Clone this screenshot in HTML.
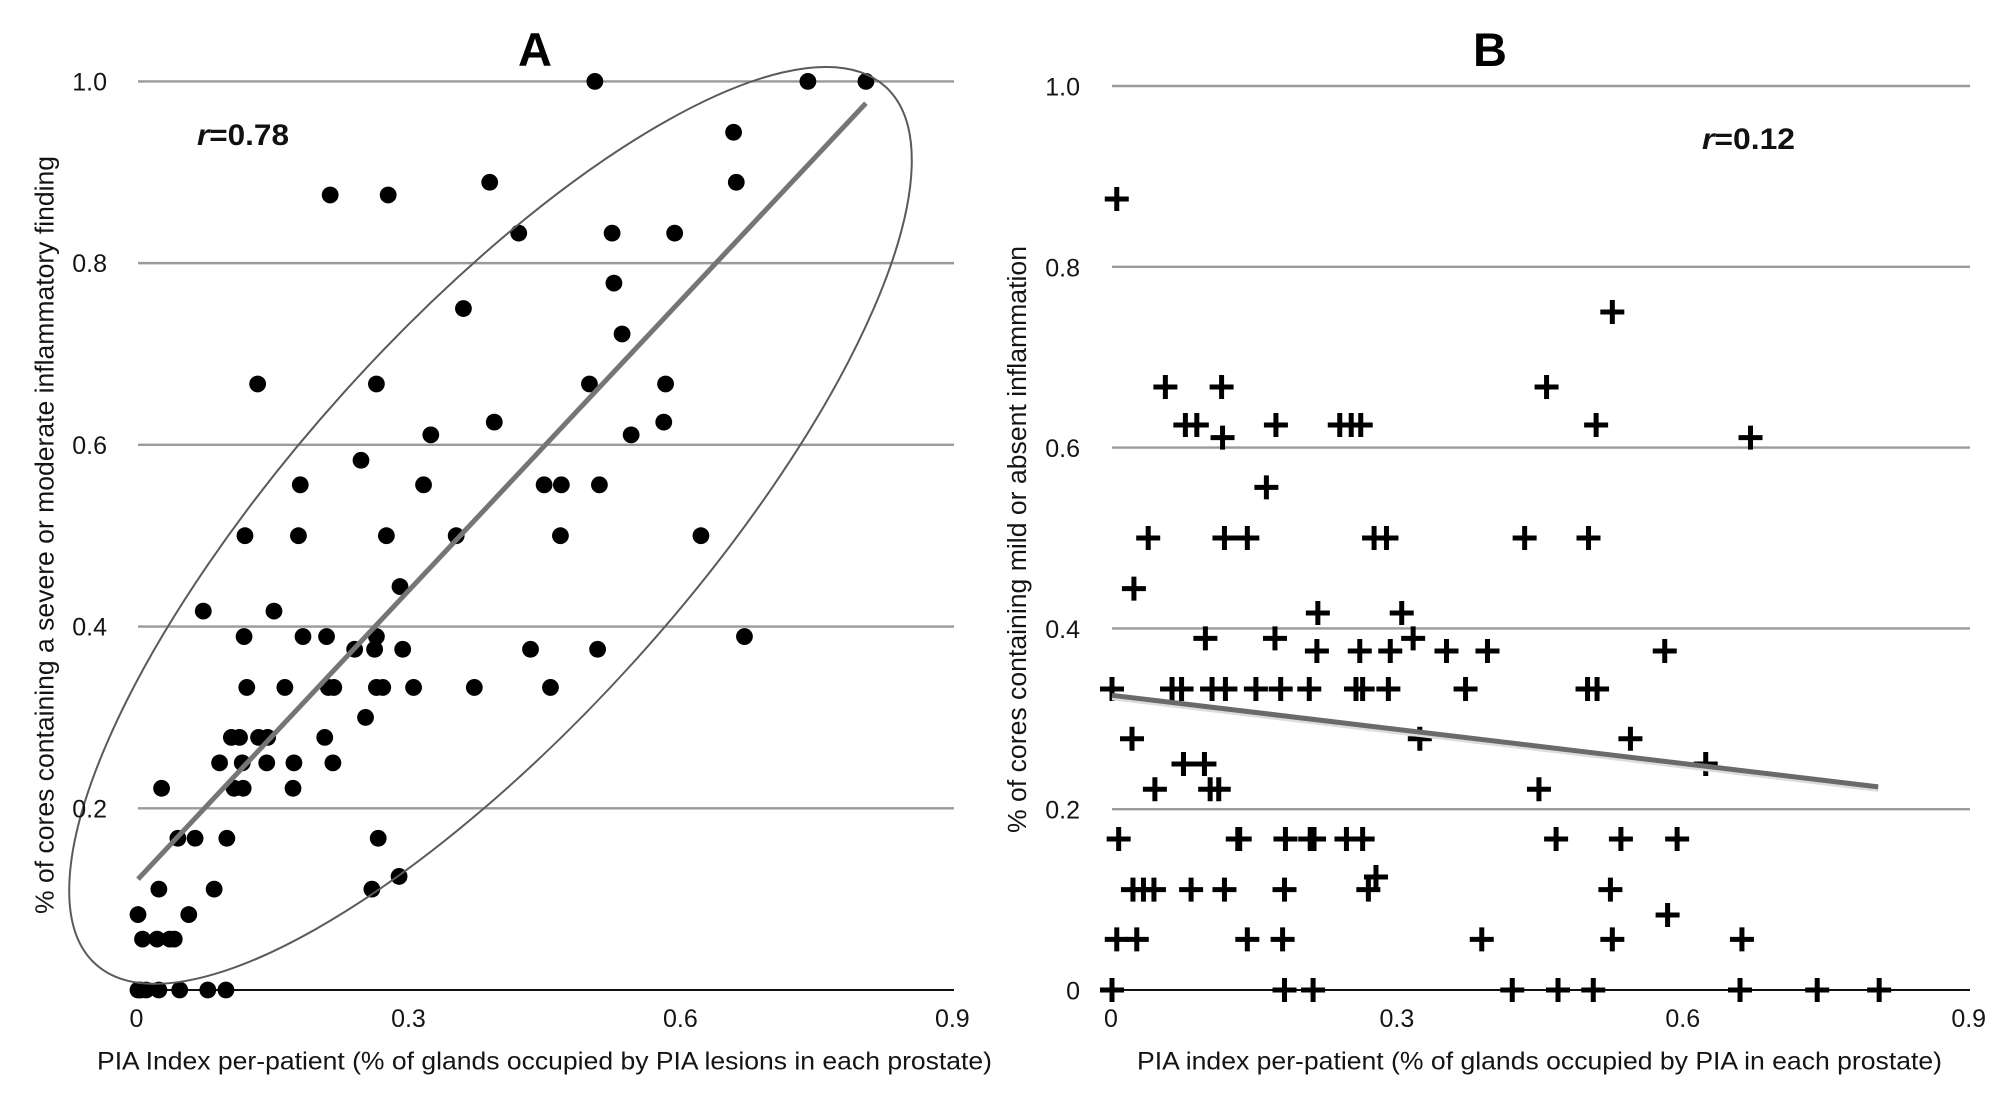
<!DOCTYPE html>
<html lang="en">
<head>
<meta charset="utf-8">
<title>PIA index vs inflammation scatter plots</title>
<style>
html,body{margin:0;padding:0;background:#fff;}
svg{display:block;}
text{font-family:"Liberation Sans",sans-serif;fill:#141414;}
.tick{font-size:25px;}
.axt{font-size:25px;}
.ayt{font-size:25.5px;}
.panel{font-size:47px;font-weight:bold;fill:#000;}
.rv{font-size:30px;font-weight:bold;fill:#111;}
</style>
</head>
<body>
<svg id="fig" xmlns="http://www.w3.org/2000/svg" width="2008" height="1111" viewBox="0 0 2008 1111">
<rect width="2008" height="1111" fill="#fff"/>
<g id="gridA"></g>
<g id="gridB"></g>
<g id="marksA"></g>
<g id="marksB"></g>
<g id="trends"></g>
<ellipse cx="490.5" cy="525.4" rx="590.3" ry="197.9" transform="rotate(-48.03 490.5 525.4)" fill="none" stroke="#5a5a5a" stroke-width="2"/>
<g id="ticks"></g>
<text class="panel" x="535" y="66" text-anchor="middle">A</text>
<text class="panel" x="1490" y="66" text-anchor="middle">B</text>
<text class="rv" x="197" y="145" textLength="92" lengthAdjust="spacingAndGlyphs"><tspan font-style="italic">r</tspan>=0.78</text>
<text class="rv" x="1702" y="149" textLength="93" lengthAdjust="spacingAndGlyphs"><tspan font-style="italic">r</tspan>=0.12</text>
<text class="axt" x="97" y="1069.5" textLength="895" lengthAdjust="spacingAndGlyphs">PIA Index per-patient (% of glands occupied by PIA lesions in each prostate)</text>
<text class="axt" x="1137" y="1069.5" textLength="805" lengthAdjust="spacingAndGlyphs">PIA index per-patient (% of glands occupied by PIA in each prostate)</text>
<text class="ayt" transform="translate(53.3 914) rotate(-90)" textLength="758" lengthAdjust="spacingAndGlyphs">% of cores containing a severe or moderate inflammatory finding</text>
<text class="ayt" transform="translate(1026 833) rotate(-90)" textLength="587" lengthAdjust="spacingAndGlyphs">% of cores containing mild or absent inflammation</text>
</svg>
<script>
const xTicks = [0, 0.3, 0.6, 0.9];
const xTickLabels = ['0', '0.3', '0.6', '0.9'];
const yTicks = [0, 0.2, 0.4, 0.6, 0.8, 1.0];
const yTickLabels = ['0', '0.2', '0.4', '0.6', '0.8', '1.0'];

const severeX = [.504,.739,.803,.657,.388,.660,.212,.276,.420,.523,.592,.525,.359,.534,.132,.263,.498,.582,.393,.580,.323,.544,.246,.179,.315,.448,.467,.509,.118,.177,.274,.351,.466,.621,.289,.072,.150,.117,.182,.208,.263,.669,.239,.261,.292,.433,.507,.120,.162,.210,.216,.263,.270,.304,.371,.455,.251,.103,.112,.133,.143,.206,.090,.115,.142,.172,.215,.026,.106,.116,.171,.044,.063,.098,.265,.288,.023,.084,.258,0,.056,.005,.021,.035,.040,0,.003,.009,.023,.046,.077,.097];
const severeY = [1,1,1,.944,.889,.889,.875,.875,.833,.833,.833,.778,.75,.722,.667,.667,.667,.667,.625,.625,.611,.611,.583,.556,.556,.556,.556,.556,.5,.5,.5,.5,.5,.5,.444,.417,.417,.389,.389,.389,.389,.389,.375,.375,.375,.375,.375,.333,.333,.333,.333,.333,.333,.333,.333,.333,.3,.278,.278,.278,.278,.278,.25,.25,.25,.25,.25,.222,.222,.222,.222,.167,.167,.167,.167,.125,.111,.111,.111,.083,.083,.056,.056,.056,.056,0,0,0,0,0,0,0];

const mildX = [.005,.525,.056,.115,.456,.077,.089,.172,.239,.251,.261,.508,.116,.670,.162,.038,.118,.142,.275,.288,.433,.500,.023,.216,.304,.098,.171,.316,.215,.260,.292,.351,.394,.580,0,.063,.073,.105,.119,.151,.177,.207,.256,.263,.290,.371,.499,.509,.021,.323,.544,.075,.097,.623,.045,.103,.112,.448,.007,.132,.134,.182,.208,.212,.246,.263,.466,.534,.593,.277,.022,.033,.044,.083,.118,.181,.269,.523,.583,.005,.026,.142,.179,.388,.525,.661,0,.181,.211,.420,.468,.505,.659,.740,.805];
const mildY = [.875,.75,.667,.667,.667,.625,.625,.625,.625,.625,.625,.625,.611,.611,.556,.5,.5,.5,.5,.5,.5,.5,.444,.417,.417,.389,.389,.389,.375,.375,.375,.375,.375,.375,.333,.333,.333,.333,.333,.333,.333,.333,.333,.333,.333,.333,.333,.333,.278,.278,.278,.25,.25,.25,.222,.222,.222,.222,.167,.167,.167,.167,.167,.167,.167,.167,.167,.167,.167,.125,.111,.111,.111,.111,.111,.111,.111,.111,.083,.056,.056,.056,.056,.056,.056,.056,0,0,0,0,0,0,0,0,0];

const trendAX = [0, .803];
const trendAY = [.122, .976];
const trendBX = [0, .804];
const trendBY = [.326, .2247];

const NS = 'http://www.w3.org/2000/svg';
function make(tag, attrs, parent) {
  const el = document.createElementNS(NS, tag);
  for (const k in attrs) el.setAttribute(k, attrs[k]);
  parent.appendChild(el);
  return el;
}
function xA(v) { return 138 + 906.5 * v; }
function yA(v) { return 990 - 908.6 * v; }
function xB(v) { return 1112 + 953 * v; }
function yB(v) { return 990 - 904 * v; }

const gridA = document.getElementById('gridA');
const gridB = document.getElementById('gridB');
const marksA = document.getElementById('marksA');
const marksB = document.getElementById('marksB');
const trends = document.getElementById('trends');
const ticks = document.getElementById('ticks');

yTicks.forEach(function (t, i) {
  const zero = t === 0;
  const a = make('line', { x1: 138, x2: 954, y1: yA(t), y2: yA(t), stroke: zero ? '#111' : '#9a9a9a', 'stroke-width': zero ? 2 : 2.4 }, gridA);
  
  
  const b = make('line', { x1: 1112, x2: 1970, y1: yB(t), y2: yB(t), stroke: zero ? '#111' : '#9a9a9a', 'stroke-width': zero ? 2 : 2.4 }, gridB);
  
  
  if (!zero) {
    const la = make('text', { class: 'tick', x: 107, y: yA(t) + 9, 'text-anchor': 'end' }, ticks);
    
    
    la.textContent = yTickLabels[i];
  }
  const lb = make('text', { class: 'tick', x: 1080, y: yB(t) + 9.5, 'text-anchor': 'end' }, ticks);
  
  
  lb.textContent = yTickLabels[i];
});

xTicks.forEach(function (t, i) {
  const la = make('text', { class: 'tick', x: xA(t) - 1.5, y: 1027, 'text-anchor': 'middle' }, ticks);
  
  
  la.textContent = xTickLabels[i];
  const lb = make('text', { class: 'tick', x: xB(t) - 1, y: 1027, 'text-anchor': 'middle' }, ticks);
  
  
  lb.textContent = xTickLabels[i];
});

severeX.forEach(function (v, i) {
  const c = make('circle', { cx: xA(v), cy: yA(severeY[i]), r: 8.4, fill: '#000' }, marksA);
  
  
});

mildX.forEach(function (v, i) {
  const p = make('path', {
    d: 'M' + (xB(v) - 12) + ' ' + yB(mildY[i]) + 'h24M' + xB(v) + ' ' + (yB(mildY[i]) - 12) + 'v24',
    stroke: '#000', 'stroke-width': 5, fill: 'none'
  }, marksB);
  
  
});

const halo = make('line', { x1: xB(trendBX[0]), y1: yB(trendBY[0]) + 3, x2: xB(trendBX[1]), y2: yB(trendBY[1]) + 3, stroke: '#dcdcdc', 'stroke-width': 4 }, trends);


const tA = make('line', { x1: xA(trendAX[0]), y1: yA(trendAY[0]), x2: xA(trendAX[1]), y2: yA(trendAY[1]), stroke: '#757575', 'stroke-width': 5 }, trends);


const tB = make('line', { x1: xB(trendBX[0]), y1: yB(trendBY[0]), x2: xB(trendBX[1]), y2: yB(trendBY[1]), stroke: '#6a6a6a', 'stroke-width': 5 }, trends);


</script>
</body>
</html>
